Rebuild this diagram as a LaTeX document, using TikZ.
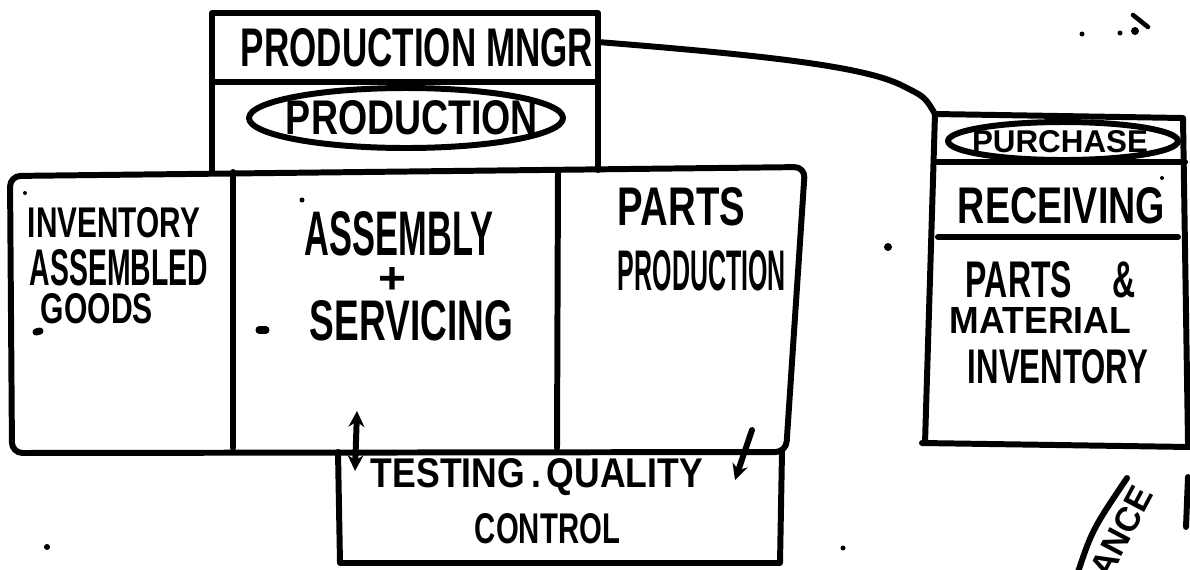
\documentclass[tikz,border=0pt]{standalone}
\usepackage{fontspec}
\setmainfont{Liberation Sans}
\usetikzlibrary{arrows.meta}

% one drawing unit, the same as x and y of the picture
\newlength\pxu
\setlength\pxu{0.02cm}
% marker lettering, squeezed to a width and a cap height
\newcommand{\scrawl}[3]{\resizebox{#1\pxu}{#2\pxu}{\bfseries #3}}

\tikzset{
  pen/.style={line width=3.4pt, line cap=round, line join=round,
    >={Stealth[length=9pt, width=9pt]}},
  word/.style={inner sep=0pt, anchor=base west},
  blot/.style={fill, circle, inner sep=0pt, minimum size=#1\pxu},
}

\begin{document}
\begin{tikzpicture}[x=0.02cm, y=-0.02cm, pen]
\useasboundingbox (0,0) rectangle (1190,569);
\clip (0,0) rectangle (1190,569);

% production manager over the production office
\draw (212,172) -- (212,13) -- (598,13) -- (598,170);
\draw (212,82) -- (598,82);
\coordinate (mngr east) at (598,42);
\node[word] (mngr) at (238,66) {\scrawl{352}{38}{PRODUCTION MNGR}};
\node[inner sep=0pt] (prod) at (412,118) {\scrawl{252}{34}{PRODUCTION}};
\draw (406,118) ellipse [x radius=157, y radius=30];

% the shop floor, three rooms
\draw[rounded corners=6pt] (12,453) -- (10,176) -- (805,167) -- (786,452) -- cycle;
\draw (233,172) -- (233,448);
\draw (558,170) -- (557,448);
\node[word] (inv1) at (25,237) {\scrawl{172}{30}{INVENTORY}};
\node[word] (inv2) at (27,285) {\scrawl{178}{36}{ASSEMBLED}};
\node[word] (inv3) at (38,323) {\scrawl{112}{30}{GOODS}};
\node[word] (asm1) at (302,255) {\scrawl{188}{44}{ASSEMBLY}};
\node[inner sep=0pt] (asm2) at (392,280) {\scrawl{28}{26}{+}};
\node[word] (asm3) at (307,340) {\scrawl{203}{40}{SERVICING}};
\node[word] (parts1) at (615,225) {\scrawl{127}{38}{PARTS}};
\node[word] (parts2) at (615,290) {\scrawl{168}{40}{PRODUCTION}};

% testing under the floor
\draw (338,452) -- (340,563) -- (780,563) -- (782,452);
\node[word] (test1) at (368,487) {\scrawl{332}{29}{TESTING\,.\,QUALITY}};
\node[word] (test2) at (472,543) {\scrawl{145}{30}{CONTROL}};
\coordinate (asm foot) at (357,411);
\coordinate (test in) at (355,471);
\coordinate (parts foot) at (752,430);
\coordinate (test out) at (735,480);
\draw[<->] (asm foot) -- (test in);
\draw[->] (parts foot) -- (test out);

% purchasing and receiving
\coordinate (purch nw) at (935,114);
\draw (purch nw) -- (1183,118) -- (1188,443);
\draw (purch nw) -- (925,443);
\draw (922,443) -- (1190,447);
\draw (937,162) -- (1185,162);
\draw (938,237) -- (1178,237);
\node[inner sep=0pt] (purch) at (1060,142) {\scrawl{176}{22}{PURCHASE}};
\draw (1063,141) ellipse [x radius=115, y radius=19];
\node[word] (recv) at (955,223) {\scrawl{207}{36}{RECEIVING}};
\node[word] (stock1) at (963,297) {\scrawl{170}{36}{PARTS \quad\&}};
\node[word] (stock2) at (947,333) {\scrawl{181}{26}{MATERIAL}};
\node[word] (stock3) at (965,383) {\scrawl{180}{34}{INVENTORY}};

\draw (mngr east) .. controls (760,55) and (865,66) .. (903,86)
  .. controls (925,97) .. (purch nw);

% maintenance, running off the sheet
\draw (1076,578) .. controls (1092,530) .. (1127,478);
\node[word, anchor=base east, rotate=62] (maint) at (1156,492)
  {\scrawl{253}{24}{MAINTENANCE}};
\draw (1188,477) -- (1186,527);

% stray marks
\node[blot=4] (d1) at (25,193) {};
\node[blot=5] (d2) at (302,200) {};
\draw[line width=4pt] (36,332) -- (40,331);
\draw[line width=4pt] (259,330) -- (266,330);
\node[blot=8] (d3) at (888,247) {};
\node[blot=4] (d4) at (1162,178) {};
\node[blot=5] (d5) at (1082,34) {};
\node[blot=5] (d6) at (1120,33) {};
\node[blot=8] (d7) at (1135,31) {};
\draw[line width=2.6pt] (1133,15) -- (1148,27);
\node[blot=6] (d8) at (47,547) {};
\node[blot=5] (d9) at (843,548) {};
\end{tikzpicture}
\end{document}
